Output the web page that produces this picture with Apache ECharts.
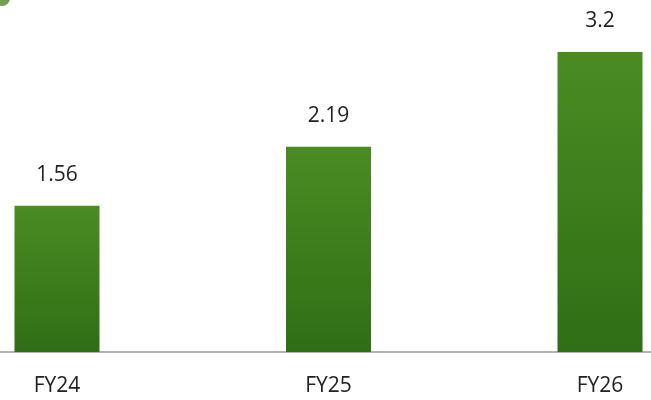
<!DOCTYPE html>
<html>
<head>
<meta charset="utf-8">
<script src="https://cdn.jsdelivr.net/npm/echarts@6/dist/echarts.min.js"></script>
<style>
  html, body { margin: 0; padding: 0; background: #fff; }
  #chart { width: 651px; height: 400px; }
</style>
</head>
<body>
<div id="chart"></div>
<script>
// data
var years = ["FY24", "FY25", "FY26"];
var values = [1.56, 2.19, 3.2];

var chart = echarts.init(document.getElementById("chart"));

var option = {
  animation: false,
  backgroundColor: "#fff",
  grid: {
    top: 52,
    bottom: 48,
    left: 57,
    right: 51
  },
  // baseline runs across the whole picture, wider than the grid
  graphic: [
    {
      type: "line",
      shape: { x1: 0, y1: 352, x2: 651, y2: 352 },
      style: { stroke: "#9a9a9a", lineWidth: 1.5 },
      z: 1
    },
    {
      type: "circle",
      shape: { cx: 2, cy: -2, r: 8 },
      style: { fill: "#4f8a2c", opacity: 0.8 },
      z: 1
    }
  ],
  xAxis: {
    type: "category",
    data: years,
    boundaryGap: false,
    axisLine: { show: false },
    axisTick: { show: false },
    axisLabel: {
      color: "#222",
      fontSize: 21,
      fontFamily: "Open Sans",
      margin: 24
    }
  },
  yAxis: {
    type: "value",
    min: 0,
    max: 3.2,
    show: false
  },
  series: [
    {
      type: "bar",
      data: values,
      barWidth: 85,
      clip: false,
      z: 3,
      itemStyle: {
        color: new echarts.graphic.LinearGradient(0, 0, 0, 1, [
          { offset: 0, color: "#4a8c22" },
          { offset: 1, color: "#306e16" }
        ])
      },
      label: {
        show: true,
        position: "top",
        distance: 20,
        color: "#222",
        fontSize: 21,
        fontFamily: "Open Sans"
      }
    }
  ]
};

chart.setOption(option);
</script>
</body>
</html>
